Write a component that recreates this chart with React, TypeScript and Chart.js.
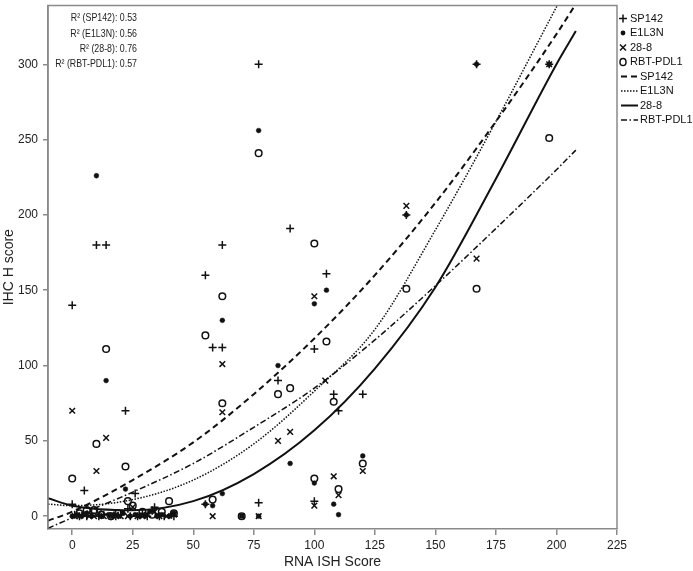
import React, { useEffect, useRef } from 'react';
import { Chart, registerables } from 'chart.js';

Chart.register(...registerables);

// ---------- data ----------
const X_TICKS = [0, 25, 50, 75, 100, 125, 150, 175, 200, 225];
const Y_TICKS = [0, 50, 100, 150, 200, 250, 300];

const SERIES_NAMES = ['SP142', 'E1L3N', '28-8', 'RBT-PDL1'];
const R2_LABELS = ['R² (SP142): 0.53', 'R² (E1L3N): 0.56', 'R² (28-8): 0.76', 'R² (RBT-PDL1): 0.57'];

const SP142_X = [0, 10, 14, 0, 5, 22, 26, 23, 34, 55, 62, 58, 62, 55, 77, 77, 85, 90, 100, 105, 108, 110, 120, 100, 138, 167, 197, 1, 3, 6, 8, 11, 13, 16, 18, 20, 24, 27, 29, 31, 33, 36, 38, 41, 42];
const SP142_Y = [140, 180, 180, 8, 17, 70, 15, 5, 6, 160, 180, 112, 112, 8, 300, 9, 90, 191, 111, 161, 81, 70, 81, 10, 200, 300, 300, 1, 0, 0, 2, 0, 1, 0, 0, 1, 0, 0, 2, 0, 4, 0, 0, 1, 0];

const E1L3N_X = [10, 14, 22, 62, 62, 55, 58, 70, 77, 77, 85, 90, 100, 100, 105, 108, 110, 120, 138, 167, 197, 0, 2, 4, 6, 8, 12, 15, 17, 19, 21, 24, 26, 28, 30, 32, 35, 37, 40, 42];
const E1L3N_Y = [226, 90, 18, 130, 15, 8, 7, 0, 256, 0, 100, 35, 141, 22, 150, 8, 1, 40, 200, 300, 300, 0, 1, 0, 2, 0, 0, 1, 0, 0, 2, 0, 1, 0, 0, 3, 0, 1, 0, 2];

const A288_X = [0, 10, 14, 62, 62, 58, 77, 85, 90, 100, 100, 104.5, 108, 110, 120, 138, 167, 197, 1, 3, 5, 7, 9, 11, 13, 16, 18, 20, 23, 25, 27, 29, 31, 34, 36, 39, 42, 70];
const A288_Y = [70, 30, 52, 101, 69, 0, 0, 50, 56, 146, 7, 90, 26.5, 14, 30, 206, 171, 300, 0, 0, 1, 0, 0, 2, 0, 0, 1, 0, 0, 6, 0, 0, 1, 3, 0, 0, 1, 0];

const RBT_X = [0, 10, 14, 22, 23, 40, 55, 58, 62, 62, 70, 77, 85, 90, 100, 100, 105, 108, 110, 120, 138, 167, 197, 3, 6, 9, 12, 16, 19, 25, 29, 33, 37, 42];
const RBT_Y = [25, 48, 111, 33, 10, 10, 120, 11, 146, 75, 0, 241, 81, 85, 181, 25, 116, 76, 18, 35, 151, 151, 251, 2, 4, 4, 1, 0, 2, 7, 3, 1, 3, 2];

// fitted curves
const FIT_X = [-10, 0, 25, 50, 75, 100, 125, 150, 175, 200, 208];
const FIT_SP142 = [-3, 3, 24, 49, 81, 118, 160, 208, 262, 320, 340];
const FIT_E1L3N = [8, 7, 11, 24, 48, 83, 124, 190, 262, 338, 362];
const FIT_288 = [12, 7, 4, 10, 28, 57, 98, 152, 224, 300, 322];
const FIT_RBT = [-8, -1, 16, 35, 59, 85, 117, 153, 191, 230, 243];

// ---------- styling ----------
const INK = '#111111';
const FRAME = '#8a8a8a';
const FONT = '"Liberation Sans", Arial, sans-serif';
const DASH_SP142 = [6, 4];
const DASH_E1L3N = [1.5, 1.5];
const DASH_288: number[] = [];
const DASH_RBT = [6, 2.5, 1.5, 2.5];

const toPts = (xs: number[], ys: number[]) => xs.map((x, i) => ({ x, y: ys[i] }));

function drawMarker(ctx: CanvasRenderingContext2D, kind: number, x: number, y: number) {
  ctx.save();
  ctx.strokeStyle = INK;
  ctx.fillStyle = INK;
  ctx.lineWidth = 1.5;
  ctx.setLineDash([]);
  ctx.beginPath();
  if (kind === 0) {
    ctx.moveTo(x - 4, y); ctx.lineTo(x + 4, y);
    ctx.moveTo(x, y - 4); ctx.lineTo(x, y + 4);
    ctx.stroke();
  } else if (kind === 1) {
    ctx.arc(x, y, 2.4, 0, Math.PI * 2);
    ctx.fill();
  } else if (kind === 2) {
    ctx.moveTo(x - 3, y - 3); ctx.lineTo(x + 3, y + 3);
    ctx.moveTo(x + 3, y - 3); ctx.lineTo(x - 3, y + 3);
    ctx.stroke();
  } else {
    ctx.ellipse(x, y, 3, 3.6, 0, 0, Math.PI * 2);
    ctx.stroke();
  }
  ctx.restore();
}

const decorPlugin = {
  id: 'decor',
  afterDraw(chart: any) {
    const { ctx, chartArea } = chart;
    const { left, right, top, bottom } = chartArea;
    ctx.save();
    // frame (top, left, right)
    ctx.strokeStyle = FRAME;
    ctx.lineWidth = 1.5;
    ctx.beginPath();
    ctx.moveTo(left, bottom);
    ctx.lineTo(left, top);
    ctx.lineTo(right, top);
    ctx.lineTo(right, bottom);
    ctx.stroke();

    // R² annotations (slightly condensed face)
    ctx.fillStyle = '#222';
    ctx.font = `10.5px ${FONT}`;
    ctx.textAlign = 'right';
    ctx.textBaseline = 'middle';
    R2_LABELS.forEach((t, i) => {
      ctx.save();
      ctx.translate(left + 89, top + 13 + i * 15.2);
      ctx.scale(0.84, 1);
      ctx.fillText(t, 0, 0);
      ctx.restore();
    });

    // legend
    const lx = right + 6;
    const ly = top + 13;
    const step = 14.5;
    ctx.font = `11px ${FONT}`;
    ctx.textAlign = 'left';
    ctx.fillStyle = '#111';
    SERIES_NAMES.forEach((name, i) => {
      const y = ly + i * step;
      drawMarker(ctx, i, lx, y);
      ctx.fillStyle = '#111';
      ctx.fillText(name, lx + 7, y);
    });
    const dashes = [DASH_SP142, DASH_E1L3N, DASH_288, DASH_RBT];
    const widths = [2, 1.5, 2, 1.5];
    SERIES_NAMES.forEach((name, i) => {
      const y = ly + (i + 4) * step;
      ctx.save();
      ctx.strokeStyle = INK;
      ctx.lineWidth = widths[i];
      ctx.setLineDash(dashes[i]);
      ctx.beginPath();
      ctx.moveTo(lx - 2, y);
      ctx.lineTo(lx + 15, y);
      ctx.stroke();
      ctx.restore();
      ctx.fillStyle = '#111';
      ctx.fillText(name, lx + 17, y);
    });
    ctx.restore();
  },
};

export default function App() {
  const ref = useRef<HTMLCanvasElement>(null);
  useEffect(() => {
    if (!ref.current) return;
    const fitDs = (label: string, ys: number[], dash: number[], w: number) => ({
      label,
      data: toPts(FIT_X, ys),
      showLine: true,
      pointRadius: 0,
      borderColor: INK,
      backgroundColor: INK,
      borderWidth: w,
      borderDash: dash,
      cubicInterpolationMode: 'monotone' as const,
    });
    const chart = new Chart(ref.current, {
      type: 'scatter',
      data: {
        datasets: [
          fitDs('SP142 fit', FIT_SP142, DASH_SP142, 2),
          fitDs('E1L3N fit', FIT_E1L3N, DASH_E1L3N, 1.5),
          fitDs('28-8 fit', FIT_288, DASH_288, 2),
          fitDs('RBT-PDL1 fit', FIT_RBT, DASH_RBT, 1.5),
          {
            label: SERIES_NAMES[0], data: toPts(SP142_X, SP142_Y), pointStyle: 'cross',
            pointRadius: 4, borderColor: INK, backgroundColor: INK, pointBorderWidth: 1.5,
          },
          {
            label: SERIES_NAMES[1], data: toPts(E1L3N_X, E1L3N_Y), pointStyle: 'circle',
            pointRadius: 2.4, borderColor: INK, backgroundColor: INK, pointBorderWidth: 0.5,
          },
          {
            label: SERIES_NAMES[2], data: toPts(A288_X, A288_Y), pointStyle: 'crossRot',
            pointRadius: 4, borderColor: INK, backgroundColor: INK, pointBorderWidth: 1.5,
          },
          {
            label: SERIES_NAMES[3], data: toPts(RBT_X, RBT_Y), pointStyle: 'circle',
            pointRadius: 3.3, borderColor: INK, backgroundColor: 'rgba(255,255,255,0)', pointBorderWidth: 1.5,
          },
        ] as any,
      },
      options: {
        animation: false,
        responsive: false,
        maintainAspectRatio: false,
        events: [],
        layout: { padding: { left: 0, right: 76, top: 2, bottom: 0 } },
        plugins: { legend: { display: false }, tooltip: { enabled: false } },
        scales: {
          x: {
            type: 'linear',
            min: -10,
            max: 225,
            afterBuildTicks: (axis: any) => { axis.ticks = X_TICKS.map((v) => ({ value: v })); },
            afterFit: (s: any) => { s.height = 42; s.paddingLeft = 0; s.paddingRight = 0; },
            ticks: { color: '#222', font: { size: 12, family: FONT }, padding: 3, maxRotation: 0, autoSkip: false },
            grid: { drawOnChartArea: false, drawTicks: true, tickLength: 6, color: FRAME, lineWidth: 1.5 },
            border: { color: FRAME, width: 1.5 },
            title: { display: true, text: 'RNA ISH Score', color: '#222', font: { size: 14, family: FONT }, padding: { top: 0, bottom: 0 } },
          },
          y: {
            type: 'linear',
            min: -8.5,
            max: 339,
            afterBuildTicks: (axis: any) => { axis.ticks = Y_TICKS.map((v) => ({ value: v })); },
            afterFit: (s: any) => { s.width = 48; s.paddingTop = 0; s.paddingBottom = 0; },
            ticks: { color: '#222', font: { size: 12, family: FONT }, padding: 5, autoSkip: false },
            grid: { drawOnChartArea: false, drawTicks: true, tickLength: 5, color: FRAME, lineWidth: 1.5 },
            border: { color: FRAME, width: 1.5 },
            title: { display: true, text: 'IHC H score', color: '#222', font: { size: 14, family: FONT }, padding: { top: 1, bottom: 0 } },
          },
        },
      } as any,
      plugins: [decorPlugin],
    });
    return () => chart.destroy();
  }, []);
  return (
    <div style={{ position: 'absolute', left: 0, top: 0, width: 693, height: 571, background: '#fff' }}>
      <canvas ref={ref} width={693} height={571} style={{ display: 'block', width: 693, height: 571 }} />
    </div>
  );
}
